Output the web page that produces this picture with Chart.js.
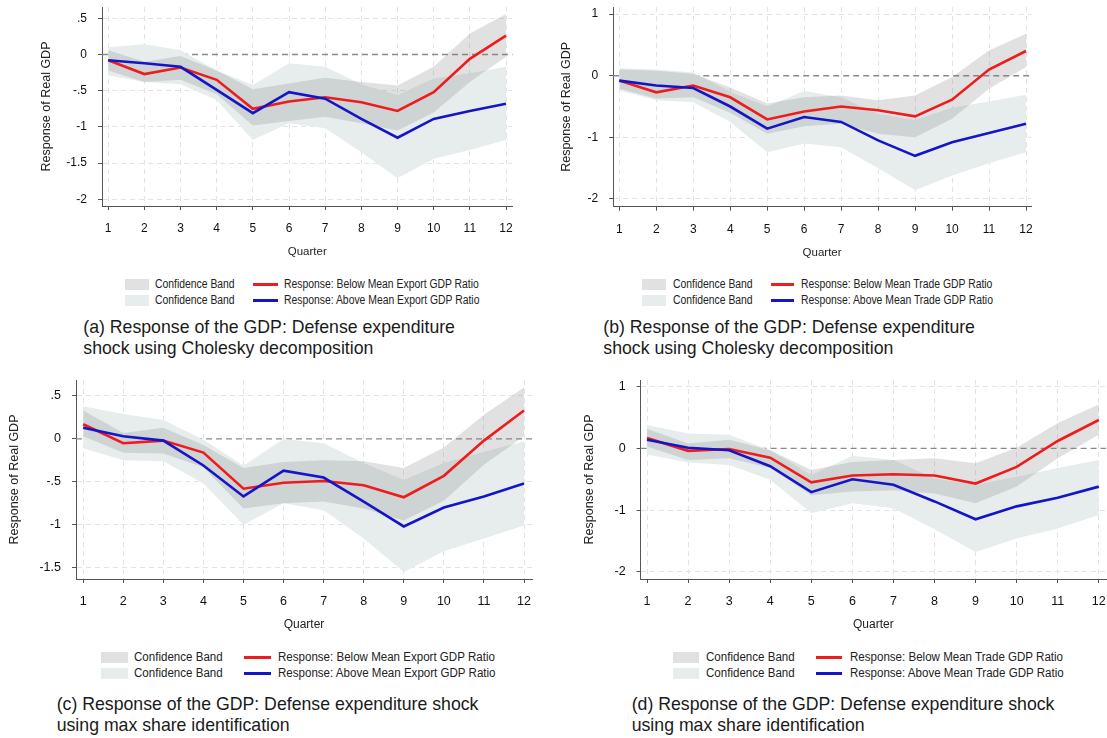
<!DOCTYPE html>
<html>
<head>
<meta charset="utf-8">
<script src="https://cdn.jsdelivr.net/npm/chart.js@4.4.1/dist/chart.umd.min.js"></script>
<style>
  html, body { margin: 0; padding: 0; background: #fff; overflow: hidden; width: 1107px; height: 738px; position: relative; }
  canvas { position: absolute; }
  .cap { position: absolute; font-family: "Liberation Sans", Arial, sans-serif; font-size: 17.7px; line-height: 21.5px; color: #1a1a1a; white-space: nowrap; }
  .lg-box { position: absolute; height: 11px; }
  .lg-line { position: absolute; height: 3px; }
  .lg-txt { position: absolute; font-family: "Liberation Sans", Arial, sans-serif; font-size: 12px; line-height: 14px; color: #222; white-space: nowrap; transform-origin: 0 50%; }
</style>
</head>
<body>
<script>
// Impulse-response horizon
const quarters = [1, 2, 3, 4, 5, 6, 7, 8, 9, 10, 11, 12];

// (a) Cholesky, export GDP ratio split
const redA      = [-0.08, -0.27, -0.18, -0.35, -0.75, -0.65, -0.59, -0.66, -0.78, -0.52, -0.06, 0.26];
const blueA     = [-0.08, -0.12, -0.17, -0.49, -0.81, -0.52, -0.61, -0.89, -1.15, -0.89, -0.78, -0.68];
const darkUpA   = [0.06, -0.10, -0.02, -0.22, -0.48, -0.40, -0.32, -0.38, -0.43, -0.17, 0.29, 0.56];
const darkLoA   = [-0.22, -0.38, -0.35, -0.55, -0.98, -0.92, -0.86, -0.95, -1.05, -0.80, -0.38, -0.03];
const lightUpA  = [0.10, 0.14, 0.06, -0.22, -0.42, -0.12, -0.17, -0.41, -0.56, -0.33, -0.26, -0.17];
const lightLoA  = [-0.29, -0.38, -0.41, -0.63, -1.18, -0.95, -1.02, -1.35, -1.71, -1.44, -1.32, -1.18];

// (b) Cholesky, trade GDP ratio split
const redB      = [-0.08, -0.27, -0.16, -0.35, -0.71, -0.58, -0.50, -0.56, -0.66, -0.39, 0.10, 0.40];
const blueB     = [-0.08, -0.16, -0.20, -0.50, -0.86, -0.67, -0.75, -1.05, -1.30, -1.08, -0.93, -0.78];
const darkUpB   = [0.10, 0.08, 0.03, -0.19, -0.45, -0.35, -0.32, -0.40, -0.32, -0.02, 0.41, 0.68];
const darkLoB   = [-0.21, -0.37, -0.35, -0.60, -0.94, -0.82, -0.78, -0.94, -1.00, -0.70, -0.21, 0.14];
const lightUpB  = [0.12, 0.10, 0.05, -0.26, -0.50, -0.25, -0.35, -0.62, -0.72, -0.52, -0.42, -0.31];
const lightLoB  = [-0.24, -0.40, -0.43, -0.75, -1.24, -1.10, -1.16, -1.50, -1.86, -1.62, -1.42, -1.24];

// (c) max share, export GDP ratio split
const redC      = [0.17, -0.05, -0.02, -0.16, -0.58, -0.51, -0.49, -0.54, -0.68, -0.43, -0.02, 0.33];
const blueC     = [0.13, 0.03, -0.02, -0.31, -0.67, -0.37, -0.45, -0.73, -1.02, -0.80, -0.67, -0.52];
const darkUpC   = [0.33, 0.07, 0.13, -0.07, -0.34, -0.27, -0.25, -0.26, -0.34, -0.10, 0.28, 0.60];
const darkLoC   = [0.03, -0.16, -0.17, -0.33, -0.81, -0.75, -0.73, -0.81, -0.95, -0.72, -0.30, 0.03];
const lightUpC  = [0.38, 0.29, 0.22, -0.01, -0.31, 0.00, -0.05, -0.28, -0.48, -0.28, -0.15, -0.03];
const lightLoC  = [-0.11, -0.25, -0.26, -0.52, -1.00, -0.75, -0.83, -1.16, -1.55, -1.31, -1.16, -1.01];

// (d) max share, trade GDP ratio split
const redD      = [0.17, -0.04, -0.01, -0.15, -0.55, -0.44, -0.42, -0.44, -0.57, -0.30, 0.12, 0.46];
const blueD     = [0.14, 0.01, -0.03, -0.29, -0.71, -0.50, -0.59, -0.86, -1.15, -0.94, -0.80, -0.62];
const darkUpD   = [0.32, 0.08, 0.14, -0.03, -0.35, -0.22, -0.19, -0.16, -0.24, 0.01, 0.41, 0.71];
const darkLoD   = [0.03, -0.19, -0.16, -0.32, -0.76, -0.70, -0.68, -0.73, -0.89, -0.62, -0.16, 0.22];
const lightUpD  = [0.38, 0.24, 0.22, -0.03, -0.43, -0.12, -0.19, -0.49, -0.59, -0.46, -0.32, -0.19];
const lightLoD  = [-0.10, -0.23, -0.27, -0.51, -1.05, -0.89, -0.97, -1.31, -1.68, -1.46, -1.30, -1.08];

// y-axis ticks and their Stata-style labels
const yTickValsA = [-2, -1.5, -1, -0.5, 0, 0.5];
const yTickLblsA = ['-2', '-1.5', '-1', '-.5', '0', '.5'];
const yTickValsB = [-2, -1, 0, 1];
const yTickLblsB = ['-2', '-1', '0', '1'];
const yTickValsC = [-1.5, -1, -0.5, 0, 0.5];
const yTickLblsC = ['-1.5', '-1', '-.5', '0', '.5'];

const bandLabel = 'Confidence Band';
const exportLabels = ['Response: Below Mean Export GDP Ratio', 'Response: Above Mean Export GDP Ratio'];
const tradeLabels  = ['Response: Below Mean Trade GDP Ratio', 'Response: Above Mean Trade GDP Ratio'];

const captionA = ['(a) Response of the GDP: Defense expenditure', 'shock using Cholesky decomposition'];
const captionB = ['(b) Response of the GDP: Defense expenditure', 'shock using Cholesky decomposition'];
const captionC = ['(c) Response of the GDP: Defense expenditure shock', 'using max share identification'];
const captionD = ['(d) Response of the GDP: Defense expenditure shock', 'using max share identification'];

// Colours
const RED = '#ee1c1c';
const BLUE = '#1515c8';
const LIGHT_BAND = '#e7eded';
const DARK_BAND = 'rgba(120,120,120,0.22)';
const DARK_BOX = '#e1e1e1';
const GRID = '#e3e3e3';
const AXIS = '#555';

Chart.defaults.font.family = '"Liberation Sans", Arial, Helvetica, sans-serif';

// Dashed reference line at zero, under the bands
const zeroLine = {
  id: 'zeroLine',
  beforeDatasetsDraw(chart) {
    const { ctx, chartArea: { left, right }, scales: { y } } = chart;
    const py = y.getPixelForValue(0);
    ctx.save();
    ctx.strokeStyle = '#8a8a8a';
    ctx.lineWidth = 1.4;
    ctx.setLineDash([6, 4]);
    ctx.beginPath();
    ctx.moveTo(left, py);
    ctx.lineTo(right, py);
    ctx.stroke();
    ctx.restore();
  }
};

const pts = arr => quarters.map((q, i) => ({ x: q, y: arr[i] }));

function makePanel(p) {
  const topPad = 20, rightPad = 25;
  const yTitleSize = p.yTitleSize;
  const cl = Math.round(p.titleX - yTitleSize * 1.2 / 2);
  const Wy = p.L - cl;
  const top = p.T - topPad;
  const w = Math.round(p.R + rightPad - cl);
  const xTitleLh = p.xTitleSize * 1.2;
  const h = Math.round(p.B + 46 + xTitleLh / 2 - top);
  const Hx = h - (p.B - top);
  const padRight = cl + w - p.R;
  const xTickPad = 22.7 - 4 - p.tickSize * 1.2 / 2;

  const canvas = document.createElement('canvas');
  canvas.width = w; canvas.height = h;
  canvas.style.left = cl + 'px';
  canvas.style.top = top + 'px';
  canvas.style.width = w + 'px';
  canvas.style.height = h + 'px';
  document.body.appendChild(canvas);

  const xMin = 1 - (p.x1 - p.L) / ((p.x12 - p.x1) / 11);
  const xMax = 12 + (p.R - p.x12) / ((p.x12 - p.x1) / 11);

  new Chart(canvas.getContext('2d'), {
    type: 'line',
    data: {
      datasets: [
        { label: p.lineLabels[1], data: pts(p.blue), borderColor: BLUE, borderWidth: 2.6, pointRadius: 0, fill: false, order: 0 },
        { label: p.lineLabels[0], data: pts(p.red), borderColor: RED, borderWidth: 2.6, pointRadius: 0, fill: false, order: 1 },
        { label: bandLabel, data: pts(p.darkUp), borderWidth: 0, pointRadius: 0, backgroundColor: DARK_BAND, fill: 3, order: 2 },
        { label: bandLabel, data: pts(p.darkLo), borderWidth: 0, pointRadius: 0, fill: false, order: 3 },
        { label: bandLabel, data: pts(p.lightUp), borderWidth: 0, pointRadius: 0, backgroundColor: LIGHT_BAND, fill: 5, order: 4 },
        { label: bandLabel, data: pts(p.lightLo), borderWidth: 0, pointRadius: 0, fill: false, order: 5 }
      ]
    },
    options: {
      responsive: false,
      animation: false,
      devicePixelRatio: 1,
      layout: { padding: { left: 0, top: topPad, right: padRight, bottom: 0 } },
      plugins: { legend: { display: false }, tooltip: { enabled: false } },
      scales: {
        x: {
          type: 'linear', min: xMin, max: xMax,
          afterBuildTicks: s => { s.ticks = quarters.map(v => ({ value: v })); },
          afterFit: s => { s.height = Hx; },
          ticks: { autoSkip: false, maxRotation: 0, padding: xTickPad, color: '#111', font: { size: p.tickSize }, callback: v => String(v) },
          grid: { color: GRID, lineWidth: 1, tickLength: 4, tickColor: AXIS, tickWidth: 1 },
          border: { display: true, color: AXIS, width: 1, dash: [5, 4] },
          title: { display: true, text: 'Quarter', color: '#222', font: { size: p.xTitleSize }, padding: 0 }
        },
        y: {
          type: 'linear', min: p.yMin, max: p.yMax,
          afterBuildTicks: s => { s.ticks = p.yVals.map(v => ({ value: v })); },
          afterFit: s => { s.width = Wy; },
          ticks: { padding: 11, color: '#111', font: { size: p.yTickSize }, callback: (v, i) => p.yLbls[i] },
          grid: {
            color: c => (c.tick && c.tick.value === 0) ? 'rgba(0,0,0,0)' : GRID,
            lineWidth: 1, tickLength: 4, tickColor: AXIS, tickWidth: 1
          },
          border: { display: true, color: AXIS, width: 1, dash: [5, 4] },
          title: { display: true, text: 'Response of Real GDP', color: '#222', font: { size: yTitleSize }, padding: 0 }
        }
      }
    },
    plugins: [zeroLine]
  });

  // legend block
  const lg = p.legend;
  const rows = [lg.row1, lg.row2];
  const boxColors = [DARK_BOX, LIGHT_BAND];
  const lineColors = [RED, BLUE];
  rows.forEach((cy, r) => {
    const box = document.createElement('div');
    box.className = 'lg-box';
    box.style.cssText = `left:${lg.boxX}px;top:${cy - 5.5}px;width:${lg.boxW}px;background:${boxColors[r]};`;
    document.body.appendChild(box);

    const t1 = document.createElement('div');
    t1.className = 'lg-txt';
    t1.textContent = bandLabel;
    t1.style.cssText = `left:${lg.textX}px;top:${cy - 7}px;transform:scaleX(${lg.sx});`;
    document.body.appendChild(t1);

    const ln = document.createElement('div');
    ln.className = 'lg-line';
    ln.style.cssText = `left:${lg.lineX}px;top:${cy - 1.5}px;width:${lg.lineW}px;background:${lineColors[r]};`;
    document.body.appendChild(ln);

    const t2 = document.createElement('div');
    t2.className = 'lg-txt';
    t2.textContent = p.lineLabels[r];
    t2.style.cssText = `left:${lg.text2X}px;top:${cy - 7}px;transform:scaleX(${lg.sx});`;
    document.body.appendChild(t2);
  });

  const cap = document.createElement('div');
  cap.className = 'cap';
  cap.style.left = p.capX + 'px';
  cap.style.top = (p.capY - 10.75) + 'px';
  cap.innerHTML = p.caption.join('<br>');
  document.body.appendChild(cap);
}

makePanel({
  L: 102, T: 7, R: 512.5, B: 206, x1: 108.2, x12: 506, titleX: 46.4,
  yMin: -2.093, yMax: 0.656, yVals: yTickValsA, yLbls: yTickLblsA,
  tickSize: 12, yTickSize: 12, xTitleSize: 11.5, yTitleSize: 12.5,
  red: redA, blue: blueA, darkUp: darkUpA, darkLo: darkLoA, lightUp: lightUpA, lightLo: lightLoA,
  lineLabels: exportLabels,
  legend: { boxX: 125, boxW: 23.5, textX: 155, lineX: 253.3, lineW: 25, text2X: 284, row1: 284.3, row2: 300, sx: 0.865 },
  caption: captionA, capX: 83.3, capY: 327.5
});

makePanel({
  L: 613.2, T: 7, R: 1031, B: 206.7, x1: 619.3, x12: 1026, titleX: 566,
  yMin: -2.125, yMax: 1.114, yVals: yTickValsB, yLbls: yTickLblsB,
  tickSize: 12, yTickSize: 12, xTitleSize: 11.5, yTitleSize: 12.5,
  red: redB, blue: blueB, darkUp: darkUpB, darkLo: darkLoB, lightUp: lightUpB, lightLo: lightLoB,
  lineLabels: tradeLabels,
  legend: { boxX: 641.7, boxW: 24, textX: 672.7, lineX: 770.7, lineW: 23.6, text2X: 800.7, row1: 284.3, row2: 300, sx: 0.865 },
  caption: captionB, capX: 603.3, capY: 327.5
});

makePanel({
  L: 76, T: 380, R: 532, B: 579, x1: 83.2, x12: 524, titleX: 14.3,
  yMin: -1.632, yMax: 0.686, yVals: yTickValsC, yLbls: yTickLblsC,
  tickSize: 12.5, yTickSize: 12.5, xTitleSize: 12, yTitleSize: 12.5,
  red: redC, blue: blueC, darkUp: darkUpC, darkLo: darkLoC, lightUp: lightUpC, lightLo: lightLoC,
  lineLabels: exportLabels,
  legend: { boxX: 100.7, boxW: 27, textX: 134.3, lineX: 244.3, lineW: 26.4, text2X: 277.7, row1: 657.3, row2: 673.1, sx: 0.963 },
  caption: captionC, capX: 56.7, capY: 704.5
});

makePanel({
  L: 640.6, T: 380, R: 1106, B: 579, x1: 647, x12: 1098.8, titleX: 589.8,
  yMin: -2.118, yMax: 1.109, yVals: yTickValsB, yLbls: yTickLblsB,
  tickSize: 12.5, yTickSize: 12.5, xTitleSize: 12, yTitleSize: 12.5,
  red: redD, blue: blueD, darkUp: darkUpD, darkLo: darkLoD, lightUp: lightUpD, lightLo: lightLoD,
  lineLabels: tradeLabels,
  legend: { boxX: 672.7, boxW: 26.6, textX: 706, lineX: 816, lineW: 25.7, text2X: 850, row1: 657.3, row2: 673.1, sx: 0.963 },
  caption: captionD, capX: 631.7, capY: 704.5
});
</script>
</body>
</html>
